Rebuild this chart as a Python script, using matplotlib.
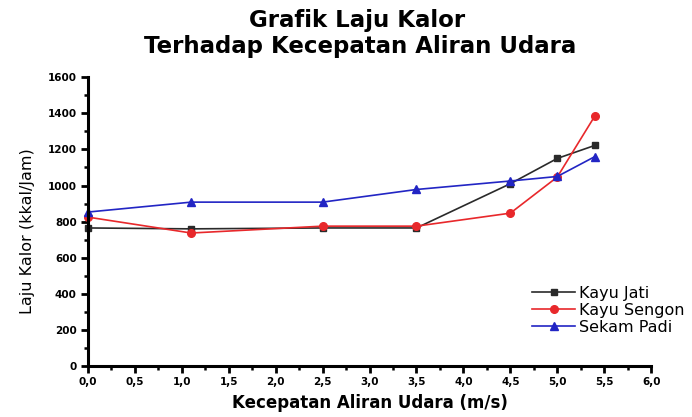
import matplotlib
matplotlib.use("Agg")
import matplotlib.pyplot as plt
from matplotlib.ticker import MultipleLocator, FuncFormatter

plt.rcParams['font.family'] = ['DejaVu Sans']

x = [0.0, 1.1, 2.5, 3.5, 4.5, 5.0, 5.4]
kayu_jati = [765, 760, 765, 765, 1010, 1150, 1222]
kayu_sengon = [825, 737, 775, 775, 847, 1047, 1385]
sekam_padi = [853, 908, 908, 978, 1025, 1050, 1160]
series_names = ["Kayu Jati", "Kayu Sengon", "Sekam Padi"]

fig = plt.figure(figsize=(6.92, 4.17), dpi=100)
ax = fig.add_axes([0.127, 0.122, 0.814, 0.693])

ax.plot(x, kayu_jati, color='#2a2a2a', marker='s', markersize=5, lw=1.2, label=series_names[0])
ax.plot(x, kayu_sengon, color='#e8282b', marker='o', markersize=5.5, lw=1.2, label=series_names[1])
ax.plot(x, sekam_padi, color='#2225c4', marker='^', markersize=6, lw=1.2, label=series_names[2])

ax.set_xlim(0, 6)
ax.set_ylim(0, 1600)
ax.xaxis.set_major_locator(MultipleLocator(0.5))
ax.xaxis.set_minor_locator(MultipleLocator(0.25))
ax.yaxis.set_major_locator(MultipleLocator(200))
ax.yaxis.set_minor_locator(MultipleLocator(100))
ax.xaxis.set_major_formatter(FuncFormatter(lambda v, p: f"{v:.1f}".replace('.', ',')))

for s in ['top', 'right']:
    ax.spines[s].set_visible(False)
for s in ['left', 'bottom']:
    ax.spines[s].set_linewidth(2.2)
ax.tick_params(which='major', direction='out', length=5, width=2, labelsize=7.5, pad=3)
ax.tick_params(which='minor', direction='out', length=3, width=1.8)
for lab in ax.get_xticklabels() + ax.get_yticklabels():
    lab.set_fontweight('bold')
for line in ax.get_lines():
    line.set_clip_on(False)

ax.set_xlabel("Kecepatan Aliran Udara (m/s)", fontsize=12, fontweight='bold', labelpad=5)
ax.set_ylabel("Laju Kalor (kkal/Jam)", fontsize=11.5)
ax.yaxis.set_label_coords(-0.094, 0.467)

fig.text(0.516, 0.952, "Grafik Laju Kalor", ha='center', va='center', fontsize=16.5, fontweight='bold')
fig.text(0.52, 0.889, "Terhadap Kecepatan Aliran Udara", ha='center', va='center', fontsize=16.5, fontweight='bold')

leg = fig.legend(loc='upper left', bbox_to_anchor=(0.769, 0.315), frameon=False, fontsize=11.5,
                 handlelength=2.7, handletextpad=0.25, labelspacing=0.13,
                 borderpad=0, borderaxespad=0)

fig.savefig("out.png", dpi=100)
